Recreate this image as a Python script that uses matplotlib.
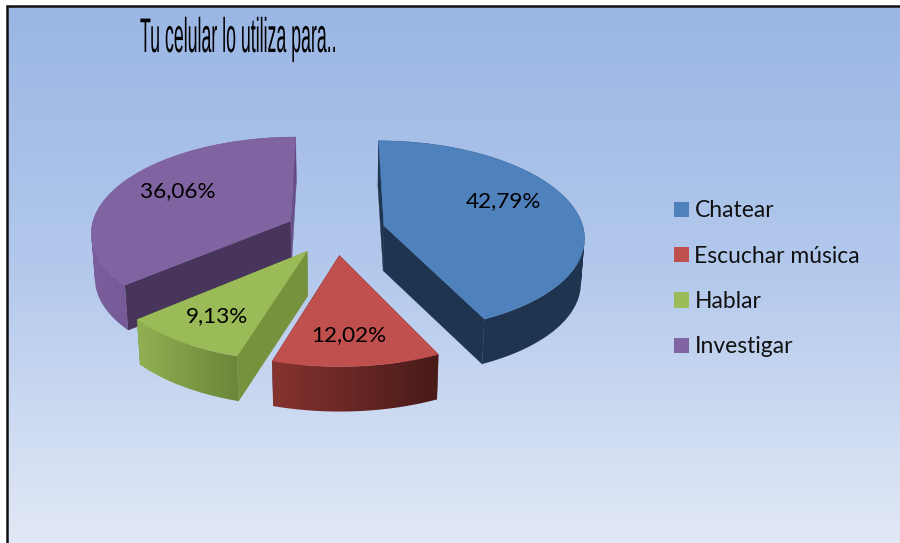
import numpy as np
import matplotlib
matplotlib.use('Agg')
from matplotlib import pyplot as plt
from matplotlib.colors import LinearSegmentedColormap
from matplotlib.patches import Polygon, Patch, PathPatch
from matplotlib.path import Path
from matplotlib.patheffects import AbstractPathEffect
from matplotlib.transforms import Affine2D

title = 'Tu celular lo utiliza para..'
categories = ['Chatear', 'Escuchar música', 'Hablar', 'Investigar']
values = [42.79, 12.02, 9.13, 36.06]
value_labels = ['42,79%', '12,02%', '9,13%', '36,06%']

top_colors = ['#4F81BD', '#C0504D', '#9BBB59', '#8064A2']
rim_left = ['#1F344F', '#86332F', '#92B052', '#7B5E9C']
rim_right = ['#1F344F', '#481B19', '#6B863A', '#5E4980']
first_edge_colors = ['#1F344F', '#5A2220', '#76923C', '#47355C']
last_edge_colors = ['#1F344F', '#5A2220', '#76923C', '#6A5088']
label_pos = [(503, 201), (349, 335), (217, 316), (178, 191)]

# pie geometry in pixels
CX, CY = 335.5, 231
RX, RY = 200, 96
BEND = 10
PERSP = 0.11
EXPLODE = 0.25
DEPTH = 45


def project(u, v):
    # flat pie coords -> picture, the front of the pie comes out bigger
    x = CX + RX * u * (1 + PERSP * v)
    y = CY + RY * v + BEND * v * v
    return x, y


def drop(x, y):
    # same point on the bottom face
    return CX + (x - CX) * 0.985, y + DEPTH


def sidePath(x, y, bx, by):
    # one quad per rim step, all wound the same way so the clip has no holes
    quads = []
    for j in range(len(x) - 1):
        q = np.array([(x[j], y[j]), (x[j + 1], y[j + 1]), (bx[j + 1], by[j + 1]), (bx[j], by[j]), (x[j], y[j])])
        area = np.sum(q[:-1, 0] * q[1:, 1] - q[1:, 0] * q[:-1, 1])
        if area < 0:
            q = q[::-1]
        quads.append(Path(q, closed=True))
    return Path.make_compound_path(*quads)


class Squeeze(AbstractPathEffect):
    # the title is a condensed font, squeeze the glyphs sideways around x0
    def __init__(self, x0, factor):
        super().__init__()
        self.x0 = x0
        self.factor = factor

    def draw_path(self, renderer, gc, tpath, affine, rgbFace=None):
        squeeze = Affine2D().translate(-self.x0, 0).scale(self.factor, 1).translate(self.x0, 0)
        renderer.draw_path(gc, tpath, affine + squeeze, rgbFace)


fig = plt.figure(figsize=(9, 5.43), dpi=100)
ax = fig.add_axes([0, 0, 1, 1])

bg = LinearSegmentedColormap.from_list('bg', ['#9AB6E4', '#B4C9EC', '#E2E9F6'])
ax.imshow(np.linspace(0, 1, 256).reshape(-1, 1), cmap=bg, extent=(7, 900, 543, 6),
          aspect='auto', zorder=0)
ax.plot([7, 7, 900], [543, 6, 6], color='#111111', lw=1.8, zorder=1, solid_joinstyle='miter')

# angles clockwise from the top
shares = np.array(values) / sum(values) * 360
starts = np.concatenate([[0], np.cumsum(shares)[:-1]])

# back slices first
for z, i in enumerate([3, 0, 1, 2]):
    a0 = np.radians(starts[i])
    a1 = np.radians(starts[i] + shares[i])
    mid = (a0 + a1) / 2
    du, dv = EXPLODE * np.sin(mid), -EXPLODE * np.cos(mid)
    ang = np.linspace(a0, a1, 120)
    x, y = project(np.sin(ang) + du, -np.cos(ang) + dv)
    px, py = project(du, dv)
    bx, by = drop(x, y)
    bpx, bpy = drop(px, py)

    # flat cut faces
    for k, col in [(0, first_edge_colors[i]), (-1, last_edge_colors[i])]:
        ax.add_patch(Polygon([(px, py), (x[k], y[k]), (bx[k], by[k]), (bpx, bpy)],
                             closed=True, fc=col, ec=col, lw=0.3, zorder=2 + z))

    # round side, colour runs left to right
    side = PathPatch(sidePath(x, y, bx, by), fc='none', ec='none', transform=ax.transData)
    ax.add_patch(side)
    cmap = LinearSegmentedColormap.from_list('rim%d' % i, [rim_left[i], rim_right[i]])
    im = ax.imshow(np.linspace(0, 1, 128).reshape(1, -1), cmap=cmap, aspect='auto',
                   extent=(min(x.min(), bx.min()), max(x.max(), bx.max()), by.max(), y.min()),
                   zorder=2 + z)
    im.set_clip_path(side)

    # top
    ax.add_patch(Polygon(np.column_stack([np.r_[px, x], np.r_[py, y]]), closed=True,
                         fc=top_colors[i], ec=top_colors[i], lw=0.3, zorder=2 + z))

ax.set_xlim(0, 900)
ax.set_ylim(543, 0)
ax.axis('off')

for i, lab in enumerate(value_labels):
    ax.text(label_pos[i][0], label_pos[i][1], lab, fontsize=16.2, family='Lato', color='black',
            ha='center', va='center', zorder=10)

ax.text(140, 52, title, fontsize=35, family='Liberation Sans', color='black',
        ha='left', va='baseline', zorder=10, path_effects=[Squeeze(140, 0.365)])

handles = [Patch(fc=c, ec='none') for c in top_colors]
ax.legend(handles, categories, loc='center left', bbox_to_anchor=(0.7265, 0.4865), frameon=False,
          prop={'family': 'Lato', 'size': 16.5}, handlelength=0.65, handleheight=0.65,
          handletextpad=0.22, labelspacing=1.06, labelcolor='#111111')

fig.savefig('out.png', dpi=100)
